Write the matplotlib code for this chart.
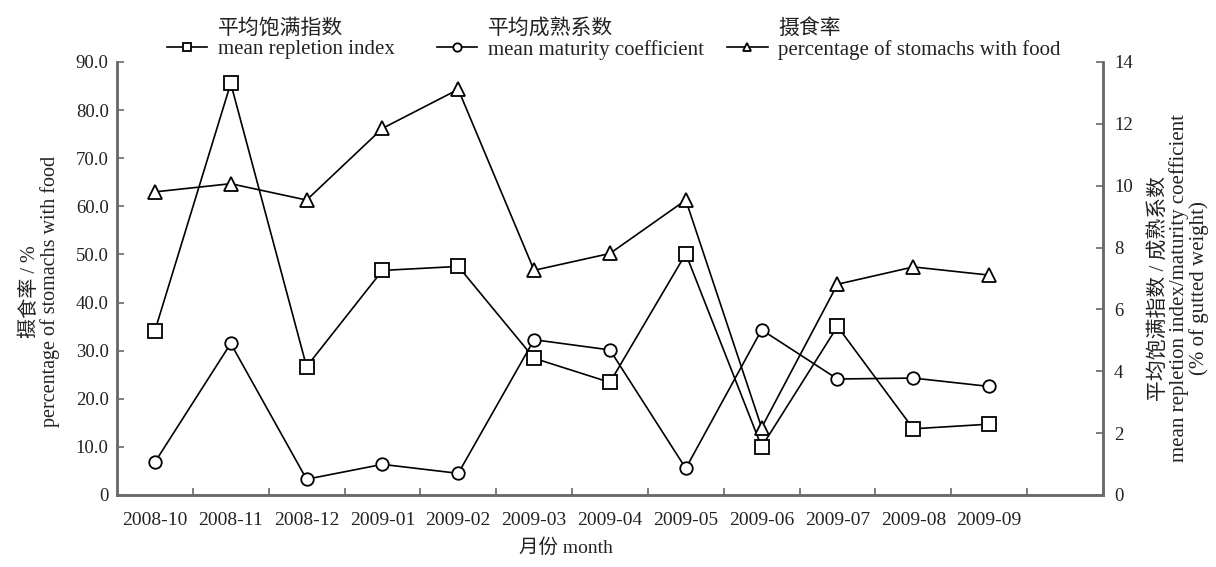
import numpy as np
import matplotlib
matplotlib.use('Agg')
import matplotlib.pyplot as plt
from matplotlib.lines import Line2D

plt.rcParams['font.family'] = ['Liberation Serif', 'Noto Sans CJK SC']
plt.rcParams['axes.unicode_minus'] = False

# months sampled
meses = ['2008-10', '2008-11', '2008-12', '2009-01', '2009-02', '2009-03',
         '2009-04', '2009-05', '2009-06', '2009-07', '2009-08', '2009-09']

# feeding rate, % (left axis)
she_shi_lv = [63.0, 64.7, 61.3, 76.2, 84.3, 46.7, 50.2, 61.3, 14.0, 43.8, 47.4, 45.7]
# mean repletion index and mean maturity coefficient (right axis)
bao_man = [5.31, 13.31, 4.15, 7.26, 7.39, 4.42, 3.64, 7.80, 1.56, 5.45, 2.14, 2.29]
cheng_shu = [1.06, 4.90, 0.51, 0.99, 0.70, 5.02, 4.69, 0.86, 5.34, 3.75, 3.78, 3.51]

gris = '#6a6a6a'
texto = '#222222'

fig = plt.figure(figsize=(12.16, 5.67), dpi=100)
ax = fig.add_axes([0.0962, 0.127, 0.8108, 0.7637])
ax2 = ax.twinx()

x = np.arange(len(meses))

ax2.plot(x, bao_man, color='black', lw=1.2, marker='s', ms=9.5,
         mfc='white', mec='black', mew=1.3, zorder=3)
ax2.plot(x, cheng_shu, color='black', lw=1.2, marker='o', ms=9,
         mfc='white', mec='black', mew=1.3, zorder=3)
ax.plot(x, she_shi_lv, color='black', lw=1.2, marker='^', ms=10.5,
        mfc='white', mec='black', mew=1.3, zorder=3)
ax.set_zorder(ax2.get_zorder() + 1)
ax.patch.set_visible(False)

ax.set_xlim(-0.5, 12.5)
ax.set_ylim(0, 90)
ax2.set_ylim(0, 14)

# labels centred on each month, tick marks on the boundaries
ax.set_xticks(x)
ax.set_xticklabels(meses, fontsize=14, color=texto)
ax.set_xticks(np.arange(0.5, 12, 1), minor=True)
ax.tick_params(axis='x', which='major', length=0, pad=12)
ax.tick_params(axis='x', which='minor', direction='in', length=5,
               width=1.2, color=gris)

yt = np.arange(0, 91, 10)
ax.set_yticks(yt)
ax.set_yticklabels(['0'] + ['%.1f' % v for v in yt[1:]], fontsize=13.5, color=texto)
ax.tick_params(axis='y', direction='in', length=5, width=1.2, color=gris, pad=6)

ax2.set_yticks(np.arange(0, 15, 2))
ax2.tick_params(axis='y', direction='in', length=5, width=1.2, color=gris,
                pad=8, labelsize=13.5, labelcolor=texto)

for a in (ax, ax2):
    a.spines['top'].set_visible(False)
    for s in ('left', 'right', 'bottom'):
        a.spines[s].set_color(gris)
        a.spines[s].set_linewidth(1.8)

ax.set_xlabel('月份 month', fontsize=14, color=texto)
ax.xaxis.set_label_coords(0.455, -0.10)

ax.set_ylabel('摄食率 / %\npercentage of stomachs with food', fontsize=14.5,
              color=texto, linespacing=1.0)
ax.yaxis.label.set(va='center', ha='center', rotation_mode='anchor')
ax.yaxis.set_label_coords(-0.078, 0.47)

ax2.set_ylabel('平均饱满指数 / 成熟系数\nmean repletion index/maturity coefficient\n(% of gutted weight)',
               fontsize=15, color=texto, linespacing=1.0)
ax2.yaxis.label.set(rotation=90, va='center', ha='center', rotation_mode='anchor')
ax2.yaxis.set_label_coords(1.077, 0.478)

# legend across the top: handle beside the English line, Chinese name above it
entradas = [
    ('s', '平均饱满指数', 'mean repletion index', 0.137),
    ('o', '平均成熟系数', 'mean maturity coefficient', 0.359),
    ('^', '摄食率', 'percentage of stomachs with food', 0.598),
]
leyendas = []
for mk, nombre, etiqueta, x0 in entradas:
    h = Line2D([], [], color='black', lw=1.2, marker=mk, ms=6,
               mfc='white', mec='black', mew=1.3)
    leg = fig.legend([h], [etiqueta], loc='upper left',
                     bbox_to_anchor=(x0, 0.93), frameon=False, fontsize=15,
                     handlelength=1.95, handletextpad=0.5, borderpad=0,
                     borderaxespad=0, labelcolor=texto)
    leyendas.append((leg, nombre))

fig.canvas.draw()
inv = fig.transFigure.inverted()
for leg, nombre in leyendas:
    bb = leg.get_texts()[0].get_window_extent()
    x_fig, y_fig = inv.transform((bb.x0, bb.y1))
    fig.text(x_fig, y_fig + 0.002, nombre, fontsize=15, color=texto,
             ha='left', va='bottom')

fig.savefig('out.png', dpi=100)
